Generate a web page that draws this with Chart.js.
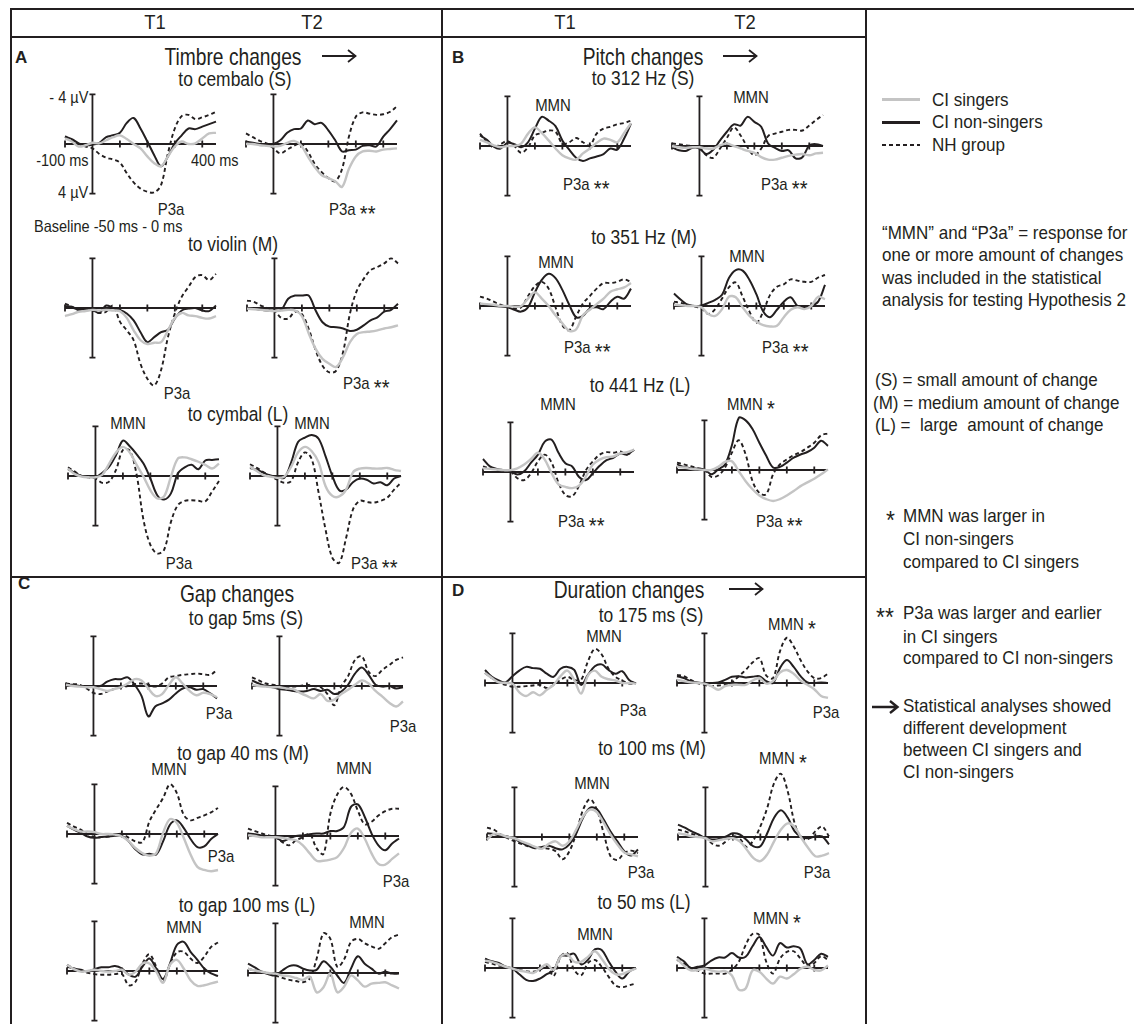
<!DOCTYPE html>
<html>
<head>
<meta charset="utf-8">
<script src="https://cdn.jsdelivr.net/npm/chart.js@4.4.0/dist/chart.umd.min.js"></script>
<style>
  html, body { margin: 0; padding: 0; background: #fff; }
  #fig { position: relative; width: 1134px; height: 1024px; overflow: hidden; background: #fff;
         font-family: "Liberation Sans", Arial, sans-serif; color: #231f20; }
  .ln { position: absolute; background: #231f20; }
  .tx { position: absolute; white-space: pre; line-height: 1; }
  .tx .st { position: relative; top: 0.3em; font-size: 1.35em; line-height: 0; }
  canvas { position: absolute; }
</style>
</head>
<body>
<div id="fig"></div>
<script>
// time base (ms) shared by every waveform
const times = [-100,-75,-50,-25,0,25,50,75,100,125,150,175,200,225,250,275,300,325,350,375,400,425,450];
const tickTimes = [-100, 0, 100, 200, 300, 400];

// values in µV (negative is drawn up)
// A - timbre, cembalo (S)
const A1_T1_sing = [-0.45,-0.2,0.2,0.1,-0.1,-0.05,-0.3,-0.55,-0.7,-0.4,0,0.35,1.0,1.55,1.8,1.0,0.2,-0.2,0,-0.05,-0.45,-0.85,-0.9];
const A1_T1_non  = [-0.6,-0.4,-0.05,0.1,0.05,-0.1,-0.55,-0.7,-0.9,-1.7,-2.1,-1.25,-0.2,0.9,1.8,1.0,-0.05,-0.7,-1.25,-1.2,-1.4,-1.6,-1.8];
const A1_T1_nh   = [-0.6,-0.3,0,0.2,0.35,0.8,1.1,1.25,1.5,2.35,3.1,3.6,3.85,3.9,3.3,0.75,-1.25,-2.25,-2.35,-2.0,-2.15,-2.35,-2.6];
const A1_T2_sing = [0,0,0.1,0.15,0.2,0.15,-0.1,-0.25,0.1,1.0,1.85,2.5,2.75,3.0,3.45,2.0,1.0,0.6,0.55,0.6,0.45,0.4,0.35];
const A1_T2_non  = [-0.2,-0.1,0,0.1,0,-0.3,-0.9,-1.2,-1.25,-1.9,-1.6,-1.7,-1.1,-0.3,0.6,0.5,0.45,0.15,0.1,0.2,-0.6,-1.2,-1.9];
const A1_T2_nh   = [-0.85,-0.55,-0.25,-0.05,0.35,0.75,0.45,0.15,-0.05,0.6,1.6,2.25,2.75,3.0,2.0,-0.6,-2.2,-2.55,-2.45,-2.35,-2.4,-2.6,-3.05];
// A - violin (M)
const A2_T1_sing = [0.65,0.5,0.3,0.25,0.15,0.2,0.15,0.2,0.25,0.8,1.8,2.6,2.9,2.8,2.75,1.8,0.8,0.4,0.6,0.65,0.8,0.85,0.65];
const A2_T1_non  = [-0.15,-0.1,0.15,0.05,0.15,0.4,-0.2,0,0.15,0.45,1.0,1.95,2.75,2.35,1.95,1.75,0.85,0.2,0.05,0,0.2,0.25,-0.2];
const A2_T1_nh   = [-0.35,-0.1,0.2,0.05,0.2,0.4,0.3,-0.2,1.1,1.8,2.6,4.5,5.7,6.25,5.0,2.35,0.45,-0.9,-1.7,-2.5,-2.65,-2.25,-2.75];
const A2_T2_sing = [0.05,0.1,0.15,0.2,0.25,0.2,0.15,0.2,0.65,2.05,3.3,4.1,4.5,4.75,3.95,2.75,2.1,1.95,1.9,1.8,1.65,1.55,1.4];
const A2_T2_non  = [0,0.05,0.15,0.2,0.2,0.15,-0.75,-1.0,-1.0,-1.0,0.2,1.15,1.5,1.55,1.65,1.85,1.75,1.4,1.0,0.75,0.3,0.15,-0.35];
const A2_T2_nh   = [-0.6,-0.5,-0.2,0,0.2,0.8,0.85,0.3,0.5,1.7,3.4,4.65,5.2,5.05,3.55,0.45,-1.4,-2.35,-3.05,-3.3,-3.6,-4.0,-3.6];
// A - cymbal (L)
const A3_T1_sing = [-0.6,-0.15,0.05,0.1,0.1,-0.1,-1.0,-1.9,-2.35,-1.9,-0.9,0.05,1.15,1.8,1.65,0.05,-1.4,-1.5,-1.35,-1.15,-0.9,-0.6,-1.0];
const A3_T1_non  = [-0.55,-0.25,0,0.05,0.1,-0.25,-0.75,-1.7,-2.85,-2.4,-1.75,-1.0,0.2,1.55,1.9,1.4,-0.2,-0.7,-0.9,-0.55,-1.25,-1.3,-1.35];
const A3_T1_nh   = [-0.7,-0.35,0,0.1,0.2,0.55,0.45,-0.5,-2.1,-2.05,-0.1,3.55,5.55,6.25,5.95,3.7,2.35,2.0,1.95,2.0,2.05,1.25,0.4];
const A3_T2_sing = [-0.75,-0.4,-0.05,0.05,0.15,0.05,-0.75,-1.9,-2.35,-2.0,-1.1,0.8,1.6,1.65,1.1,-0.3,-0.6,-0.65,-0.6,-0.6,-0.65,-0.5,-0.4];
const A3_T2_non  = [-0.65,-0.5,-0.25,-0.05,0.05,0.15,-1.1,-2.75,-3.1,-3.3,-3.0,-1.6,0,1.15,1.1,0.5,0.2,0.3,0.6,0.5,0.75,0.2,0];
const A3_T2_nh   = [-0.95,-0.65,-0.3,0,0.3,0.55,0.4,-1.1,-1.9,-1.35,1.35,4.3,6.6,7.0,5.0,2.7,2.0,2.1,2.15,2.0,1.75,1.1,0.55];
// B - pitch 312 Hz (S)
const B1_T1_sing = [-0.5,-0.3,-0.05,0.1,0,0,-0.2,-1.0,-1.5,-1.05,-0.45,0.2,0.75,1.0,1.1,0.6,0.2,-0.25,-0.6,-0.5,-0.3,-1.05,-1.85];
const B1_T1_non  = [-0.85,-0.5,0.05,0.2,-0.25,-0.15,0.1,-0.3,-1.4,-2.35,-2.05,-1.6,-0.45,0.3,0.95,1.2,1.0,0.85,0.65,0.2,0.3,-0.6,-1.8];
const B1_T1_nh   = [-1.0,-0.3,0.1,-0.15,-0.4,0,0.55,0.1,-0.85,-1.05,-1.25,-1.15,-0.2,-0.3,-0.65,-0.3,-0.05,-1.0,-1.4,-1.55,-1.75,-1.85,-2.05];
const B1_T2_sing = [0,0.1,0.15,0.1,0.1,0.2,0.2,-0.05,-0.2,0,0.2,0.4,0.55,0.9,1.1,1.1,0.95,0.8,0.7,0.65,0.75,0.6,0.55];
const B1_T2_non  = [0.1,0.35,0.4,0.15,0.2,0.65,0.3,-0.45,-1.15,-1.75,-1.65,-2.35,-1.95,-1.55,-0.2,0.15,0.4,0.35,1.0,0.9,-0.05,-0.15,0];
const B1_T2_nh   = [-0.2,-0.15,-0.05,0,0.15,0.75,0.95,0.2,-0.65,-1.5,-0.85,0.1,0.75,0.2,-0.8,-1.0,-1.15,-1.3,-1.3,-1.25,-1.65,-2.1,-2.5];
// B - 351 Hz (M)
const B2_T1_sing = [-0.2,-0.15,-0.1,0,0,0.05,0,-0.6,-1.1,-0.6,0,0.75,1.4,2.0,1.9,0.75,0.3,-0.15,-0.6,-1.15,-1.35,-1.5,-1.85];
const B2_T1_non  = [0,-0.05,0,0.05,0.1,0.3,0.45,0.1,-1.1,-2.1,-2.6,-2.25,-1.3,-0.1,0.9,0.8,0.2,0.1,0.25,-0.35,-0.75,-0.6,-1.4];
const B2_T1_nh   = [-0.75,-0.6,-0.35,-0.1,0.05,0.2,0.1,-0.8,-1.6,-1.95,-1.4,0.1,1.55,1.95,0.85,-0.2,-0.8,-1.4,-1.85,-1.85,-1.95,-2.15,-1.95];
const B2_T2_sing = [-0.1,-0.05,0,0,0.1,0.65,0.8,0.25,-0.75,-0.7,0.1,0.8,1.25,1.55,1.65,1.6,0.9,0.3,0.1,0.25,0,-0.75,-0.55];
const B2_T2_non  = [-1.0,-0.5,-0.1,0,-0.05,-0.25,-0.5,-0.9,-2.25,-2.9,-2.85,-2.1,-0.95,0.45,0.9,0.3,-0.35,-0.7,0,0.1,0,-0.35,-1.7];
const B2_T2_nh   = [-0.35,-0.25,-0.1,0.05,0.2,0.65,0.25,-0.6,-1.5,-1.9,-0.75,0.45,1.35,0.45,-0.9,-1.55,-1.75,-2.15,-2.05,-1.95,-1.95,-2.3,-2.5];
// B - 441 Hz (L)
const B3_T1_sing = [-0.3,-0.25,-0.2,-0.15,-0.15,-0.3,-0.6,-1.05,-1.55,-1.0,0.1,1.0,1.2,1.3,1.1,0.35,-0.6,-1.0,-1.2,-1.25,-1.5,-1.6,-1.8];
const B3_T1_non  = [-1.05,-0.45,-0.25,-0.15,-0.05,0.2,-0.05,-0.75,-1.4,-2.45,-2.6,-1.55,-0.7,-0.45,0.4,0.65,0.1,-0.5,-0.95,-1.15,-1.5,-1.4,-1.8];
const B3_T1_nh   = [-0.45,-0.3,-0.2,-0.15,-0.05,0.5,0.65,0.1,-0.85,-1.4,-0.75,0.85,1.85,1.95,1.1,-0.15,-0.85,-1.4,-1.6,-1.55,-1.65,-1.4,-1.8];
const B3_T2_sing = [-0.25,-0.2,-0.1,-0.05,0,0,-0.25,-0.65,-0.7,0.1,0.9,1.55,2.05,2.35,2.5,2.35,2.05,1.7,1.3,1.0,0.7,0.35,-0.05];
const B3_T2_non  = [-0.45,-0.25,-0.15,-0.1,-0.05,0.35,-0.05,-0.45,-2.0,-4.2,-4.0,-3.3,-2.2,-1.15,-0.2,-0.25,-0.6,-1.0,-1.25,-1.45,-1.8,-2.35,-1.95];
const B3_T2_nh   = [-0.6,-0.45,-0.3,-0.15,0,0.55,0.45,-0.2,-1.4,-2.4,-1.25,0.9,1.85,1.95,0.35,-0.45,-0.85,-1.2,-1.45,-1.8,-2.2,-2.8,-2.95];
// C - gap 5 ms (S)
const C1_T1_sing = [-0.1,0,0.05,0.1,0.1,0.25,0.4,0.25,0.1,-0.2,-0.55,-0.45,0.2,0.8,0.65,-0.1,-0.7,-0.2,0.4,0.75,0.55,0.65,0.9];
const C1_T1_non  = [-0.1,-0.1,0,0.05,0.05,0,-0.35,-0.55,-0.55,-0.7,-0.1,0.8,2.45,1.65,1.4,1.1,0.6,0.2,0.1,0.3,0.25,0.6,1.0];
const C1_T1_nh   = [-0.2,-0.15,-0.1,0.2,0.55,0.65,0.45,0.25,0.1,0,-0.15,-0.2,-0.1,0.05,-0.2,-0.7,-0.8,-0.9,-0.95,-1.0,-0.95,-0.9,-1.3];
const C1_T2_sing = [-0.1,0,0.05,0.1,0.1,0.2,0.25,0.55,0.8,1.0,0.65,1.2,1.1,0.65,0.3,-0.1,-0.45,-0.2,0.4,0.85,1.35,1.65,1.25];
const C1_T2_non  = [-0.45,-0.2,0,0.1,0.25,0.3,0.4,0.45,0.4,0.25,0.4,0.3,0.65,0.45,-0.1,-1.0,-1.5,-0.9,-0.1,0.05,0,0.2,0.1];
const C1_T2_nh   = [-0.7,-0.45,-0.2,-0.1,0,0.1,0.05,0,-0.1,0,0.1,0.65,1.55,0.05,-0.8,-2.1,-2.4,-1.15,-0.8,-1.3,-1.7,-2.1,-2.3];
// C - gap 40 ms (M)
const C2_T1_sing = [-0.65,-0.4,-0.2,-0.2,-0.15,0,0,0.05,0.2,0.6,1.15,1.55,1.75,1.55,-0.1,-1.2,-0.9,0.3,1.65,2.65,2.9,3.0,2.9];
const C2_T1_non  = [-0.65,-0.35,-0.1,0.2,0.3,0.25,0.2,0.15,0.15,0.6,1.25,1.65,1.6,1.65,0.6,-0.75,-1.1,-0.5,0.4,1.05,1.0,0.4,0];
const C2_T1_nh   = [-0.9,-0.6,-0.35,0,0.25,0.25,0.2,0.05,0,0.3,0.6,0.65,-1.0,-2.0,-2.9,-4.0,-3.3,-1.55,-1.1,-1.3,-1.5,-1.75,-2.1];
const C2_T2_sing = [-0.05,0,0.1,0.1,0.1,0.15,0.25,0.35,0.75,1.4,2.0,2.0,1.9,1.7,0.95,-0.25,-0.6,0.2,1.4,2.25,2.3,1.85,1.4];
const C2_T2_non  = [-0.2,-0.15,-0.05,0,0.1,0.4,0.2,0,-0.05,-0.15,-0.2,-0.2,-0.4,-0.4,-0.75,-2.35,-2.55,-1.55,-0.2,0.75,1.15,0.6,0.2];
const C2_T2_nh   = [-0.6,-0.4,-0.2,-0.05,0.1,0.5,0.75,0.35,0.1,-0.15,1.0,1.45,-1.8,-3.35,-3.95,-3.4,-2.05,-0.95,-1.15,-1.65,-2.0,-2.2,-2.2];
// C - gap 100 ms (L)
const C3_T1_sing = [-0.5,-0.15,0.05,0,-0.1,0,0.05,0,-0.1,0.3,0.05,-0.6,-0.6,0.05,0.95,-0.5,-0.9,-0.2,0.75,1.2,1.15,1.0,0.85];
const C3_T1_non  = [-0.35,-0.2,-0.1,0.05,-0.15,-0.3,-0.3,-0.4,-0.2,0.3,0.45,-0.35,-1.0,-0.2,0.65,-0.6,-2.1,-2.35,-1.55,-0.9,-0.2,0.2,0.4];
const C3_T1_nh   = [-0.5,-0.2,0,0.15,0.25,0.3,0.3,0.25,0.25,1.15,0.85,-0.6,-1.35,-0.35,0.85,-0.5,-1.5,-1.55,-1.0,-0.65,-1.15,-1.95,-2.3];
const C3_T2_sing = [-0.35,-0.2,-0.1,0,0.05,0.2,0.25,0.4,0.55,0.3,1.55,1.15,0.05,1.55,1.1,0.2,0.6,1.1,0.85,0.8,0.75,1.0,1.25];
const C3_T2_non  = [-0.75,-0.45,-0.1,0.1,0.2,-0.2,-0.55,-0.6,-0.35,-0.2,-0.25,-0.95,-0.5,0.2,0.8,-0.35,-1.35,-0.75,-0.35,0.05,-0.1,0.05,0.05];
const C3_T2_nh   = [-0.35,-0.2,-0.1,0.05,0.2,0.4,0.55,0.65,0.75,0.45,-1.15,-3.2,-2.75,-0.5,-1.1,-2.5,-2.75,-2.4,-2.15,-1.95,-2.4,-2.9,-3.1];
// D - duration 175 ms (S)
const D1_T1_sing = [-0.8,-0.4,-0.05,0,0.05,0.75,1.05,0.75,1.0,0.55,0.15,-0.55,-1.0,-0.25,0.85,-0.6,-1.0,-0.5,-0.3,-0.2,0,0,0.05];
const D1_T1_non  = [-1.05,-0.5,-0.2,-0.05,-0.55,-1.0,-1.3,-1.2,-1.15,-0.75,-0.5,-1.15,-1.3,-1.05,0.15,-0.65,-1.35,-1.5,-1.05,-0.75,-0.95,-0.25,0.05];
const D1_T1_nh   = [-0.8,-0.4,-0.05,0.15,0.3,0.3,0.25,0.2,0.15,0.4,0.15,-0.25,-0.5,-0.25,-0.25,-1.75,-2.75,-2.3,-1.15,-0.5,-0.2,0.05,0];
const D1_T2_sing = [-0.25,-0.15,-0.05,0,0.05,0.25,0.55,0.25,0.15,0.15,0.15,-0.2,-0.4,0.05,-0.15,-0.85,-1.05,-0.75,-0.2,0.15,0.5,1.05,1.2];
const D1_T2_non  = [-0.55,-0.4,-0.15,-0.05,0,0,-0.05,-0.25,-0.5,-0.55,-0.45,-0.5,-0.55,-0.15,0,-1.2,-1.85,-1.3,-0.55,-0.05,0,-0.05,0];
const D1_T2_nh   = [-0.65,-0.55,-0.25,0,0.15,0.25,0.2,0.15,-0.05,-0.55,-1.05,-1.65,-2.0,-0.6,-0.4,-2.55,-3.65,-2.95,-1.85,-0.95,-0.4,-0.4,-0.75];
// D - 100 ms (M)
const D2_T1_sing = [0.2,-0.25,-0.2,0,0.1,0.35,0.55,0.8,0.95,0.55,0.35,0.7,0.35,-0.6,-1.65,-2.2,-2.0,-1.15,-0.2,0.6,1.25,1.4,1.55];
const D2_T1_non  = [-0.3,-0.25,-0.1,-0.05,0.15,0.45,0.7,0.9,0.8,0.7,0.9,1.0,0.6,-0.3,-1.55,-2.35,-2.25,-1.4,-0.45,0.35,1.15,1.5,1.0];
const D2_T1_nh   = [-0.75,-0.6,-0.2,0.1,0.35,0.55,0.75,0.8,0.9,0.95,1.15,1.8,1.15,-0.3,-2.2,-3.05,-2.2,-0.3,1.55,1.85,1.3,1.1,1.3];
const D2_T2_sing = [-0.3,-0.2,-0.05,0,0.1,0.35,0.25,0.15,0.1,0.35,1.0,1.7,1.95,1.4,0.35,-0.6,-1.1,-0.8,0.1,0.9,1.55,1.5,1.3];
const D2_T2_non  = [-1.0,-0.75,-0.45,-0.2,0.1,0.2,0.15,-0.05,-0.3,-0.2,0.25,0.75,0.75,-0.3,-1.55,-2.15,-1.55,-0.45,0,0.1,-0.05,-0.05,0.6];
const D2_T2_nh   = [-0.6,-0.45,-0.25,-0.1,0,0.55,0.7,0.35,-0.05,0.15,0.8,0.25,-0.85,-2.35,-4.35,-5.1,-3.65,-1.1,0.1,0.15,-0.45,-0.85,-0.05];
// D - 50 ms (L)
const D3_T1_sing = [-0.6,-0.5,-0.3,-0.1,0.05,0.2,0.3,0.4,0.05,-0.3,0.15,-0.9,-1.1,-0.5,-0.5,-0.9,-1.35,-0.75,0.05,0.5,0.5,0.25,0.05];
const D3_T1_non  = [-0.75,-0.55,-0.4,-0.1,0.05,0.5,0.95,1.05,0.85,0.5,0.2,-0.95,-1.0,-1.15,-0.3,-0.65,-1.5,-1.45,-0.55,0.3,0.85,0.3,0];
const D3_T1_nh   = [-0.5,-0.35,-0.2,-0.1,0.05,0.15,0.25,0.3,0.15,-0.15,0.65,-0.9,-1.2,0.15,0.6,-0.4,-0.65,-0.1,0.7,1.4,1.55,1.4,1.25];
const D3_T2_sing = [-0.75,-0.2,0.2,0.15,0.05,0.2,0.3,0.25,0.6,1.75,1.65,0.2,0.3,0.85,1.25,0.7,0.85,0.5,0.05,-0.1,0.15,0.2,-0.2];
const D3_T2_non  = [-0.9,-0.55,0,-0.1,-0.2,-0.6,-0.85,-0.85,-1.2,-0.85,-0.9,-1.75,-2.5,-1.7,-1.0,-2.0,-1.65,-1.75,-1.55,-0.3,-0.65,-1.15,-0.9];
const D3_T2_nh   = [-0.65,-0.35,0,0.2,0.45,0.45,0.45,0.45,0.15,-0.5,-1.85,-2.75,-2.65,-0.5,0.45,-0.75,-1.3,-1.35,-0.75,-0.15,-0.4,-0.95,-0.65];

// where each small plot sits: pixel x of -100 ms, pixel y of 0 µV
const panels = [
  ['A1_T1', 65, 144, A1_T1_sing, A1_T1_non, A1_T1_nh],
  ['A1_T2', 246, 144, A1_T2_sing, A1_T2_non, A1_T2_nh],
  ['A2_T1', 65, 308, A2_T1_sing, A2_T1_non, A2_T1_nh],
  ['A2_T2', 247, 308, A2_T2_sing, A2_T2_non, A2_T2_nh],
  ['A3_T1', 68, 476, A3_T1_sing, A3_T1_non, A3_T1_nh],
  ['A3_T2', 250, 476, A3_T2_sing, A3_T2_non, A3_T2_nh],
  ['B1_T1', 480, 146, B1_T1_sing, B1_T1_non, B1_T1_nh],
  ['B1_T2', 672, 146, B1_T2_sing, B1_T2_non, B1_T2_nh],
  ['B2_T1', 480, 306, B2_T1_sing, B2_T1_non, B2_T1_nh],
  ['B2_T2', 674, 306, B2_T2_sing, B2_T2_non, B2_T2_nh],
  ['B3_T1', 483, 472, B3_T1_sing, B3_T1_non, B3_T1_nh],
  ['B3_T2', 677, 470, B3_T2_sing, B3_T2_non, B3_T2_nh],
  ['C1_T1', 66, 686, C1_T1_sing, C1_T1_non, C1_T1_nh],
  ['C1_T2', 252, 686, C1_T2_sing, C1_T2_non, C1_T2_nh],
  ['C2_T1', 67, 834, C2_T1_sing, C2_T1_non, C2_T1_nh],
  ['C2_T2', 248, 836, C2_T2_sing, C2_T2_non, C2_T2_nh],
  ['C3_T1', 67, 971, C3_T1_sing, C3_T1_non, C3_T1_nh],
  ['C3_T2', 248, 973, C3_T2_sing, C3_T2_non, C3_T2_nh],
  ['D1_T1', 485, 683, D1_T1_sing, D1_T1_non, D1_T1_nh],
  ['D1_T2', 677, 683, D1_T2_sing, D1_T2_non, D1_T2_nh],
  ['D2_T1', 487, 837, D2_T1_sing, D2_T1_non, D2_T1_nh],
  ['D2_T2', 678, 837, D2_T2_sing, D2_T2_non, D2_T2_nh],
  ['D3_T1', 485, 968, D3_T1_sing, D3_T1_non, D3_T1_nh],
  ['D3_T2', 677, 968, D3_T2_sing, D3_T2_non, D3_T2_nh],
];

// text kinds: size px, horizontal squeeze (the original face is condensed)
const kinds = {
  h: [20, 0.92], t: [24, 0.8], s: [20.5, 0.85], l: [17, 0.88], u: [16.5, 0.88], r: [18.5, 0.92], b: [17, 1],
};

// text: [string, x, y(center), kind, align]
const labels = [
  ['T1', 155, 22, 'h', 'c'], ['T2', 312, 22, 'h', 'c'], ['T1', 565, 22, 'h', 'c'], ['T2', 745, 22, 'h', 'c'],
  ['A', 15, 57, 'b', 'l'], ['Timbre changes', 233, 57, 't', 'c'], ['to cembalo (S)', 235, 79, 's', 'c'],
  ['- 4 µV', 88, 97, 'u', 'r'], ['-100 ms', 89, 160, 'u', 'r'], ['400 ms', 191, 160, 'u', 'l'], ['4 µV', 88, 192, 'u', 'r'],
  ['P3a', 171, 209, 'l', 'c'], ['P3a **', 329, 209, 'l', 'l'], ['Baseline -50 ms - 0 ms', 34, 226, 'u', 'l'],
  ['to violin (M)', 233, 244, 's', 'c'], ['P3a', 177, 393, 'l', 'c'], ['P3a **', 343, 383, 'l', 'l'],
  ['to cymbal (L)', 238, 414, 's', 'c'], ['MMN', 128, 423, 'l', 'c'], ['MMN', 312, 423, 'l', 'c'],
  ['P3a', 179, 563, 'l', 'c'], ['P3a **', 351, 563, 'l', 'l'],
  ['B', 452, 57, 'b', 'l'], ['Pitch changes', 643, 57, 't', 'c'], ['to 312 Hz (S)', 643, 78, 's', 'c'],
  ['MMN', 553, 105, 'l', 'c'], ['MMN', 751, 97, 'l', 'c'], ['P3a **', 563, 184, 'l', 'l'], ['P3a **', 761, 184, 'l', 'l'],
  ['to 351 Hz (M)', 644, 237, 's', 'c'], ['MMN', 556, 262, 'l', 'c'], ['MMN', 747, 256, 'l', 'c'],
  ['P3a **', 564, 347, 'l', 'l'], ['P3a **', 762, 347, 'l', 'l'],
  ['to 441 Hz (L)', 640, 385, 's', 'c'], ['MMN', 558, 404, 'l', 'c'], ['MMN *', 727, 404, 'l', 'l'],
  ['P3a **', 558, 521, 'l', 'l'], ['P3a **', 756, 521, 'l', 'l'],
  ['C', 18, 583, 'b', 'l'], ['Gap changes', 237, 594, 't', 'c'], ['to gap 5ms (S)', 246, 618, 's', 'c'],
  ['P3a', 219, 713, 'l', 'c'], ['P3a', 403, 726, 'l', 'c'],
  ['to gap 40 ms (M)', 243, 753, 's', 'c'], ['MMN', 169, 769, 'l', 'c'], ['MMN', 354, 768, 'l', 'c'],
  ['P3a', 221, 856, 'l', 'c'], ['P3a', 396, 881, 'l', 'c'],
  ['to gap 100 ms (L)', 247, 905, 's', 'c'], ['MMN', 184, 927, 'l', 'c'], ['MMN', 367, 922, 'l', 'c'],
  ['D', 452, 590, 'b', 'l'], ['Duration changes', 629, 590, 't', 'c'], ['to 175 ms (S)', 651, 615, 's', 'c'],
  ['MMN', 604, 636, 'l', 'c'], ['MMN *', 768, 624, 'l', 'l'], ['P3a', 633, 710, 'l', 'c'], ['P3a', 826, 712, 'l', 'c'],
  ['to 100 ms (M)', 652, 748, 's', 'c'], ['MMN *', 759, 758, 'l', 'l'], ['MMN', 592, 783, 'l', 'c'],
  ['P3a', 641, 872, 'l', 'c'], ['P3a', 817, 872, 'l', 'c'],
  ['to 50 ms (L)', 644, 902, 's', 'c'], ['MMN *', 753, 918, 'l', 'l'], ['MMN', 595, 934, 'l', 'c'],
  // right column
  ['CI singers', 932, 100, 'r', 'l'], ['CI non-singers', 932, 122, 'r', 'l'], ['NH group', 932, 145, 'r', 'l'],
  ['\u201cMMN\u201d and \u201cP3a\u201d = response for', 882, 233, 'r', 'l'],
  ['one or more amount of changes', 882, 255, 'r', 'l'],
  ['was included in the statistical', 882, 278, 'r', 'l'],
  ['analysis for testing Hypothesis 2', 882, 300, 'r', 'l'],
  ['(S) = small amount of change', 875, 380, 'r', 'l'],
  ['(M) = medium amount of change', 873, 403, 'r', 'l'],
  ['(L) =  large  amount of change', 875, 425, 'r', 'l'],
  ['*', 886, 516, 'r', 'l'], ['MMN was larger in', 903, 516, 'r', 'l'], ['CI non-singers', 903, 539, 'r', 'l'],
  ['compared to CI singers', 903, 562, 'r', 'l'],
  ['**', 876, 613, 'r', 'l'], ['P3a was larger and earlier', 903, 613, 'r', 'l'], ['in CI singers', 903, 637, 'r', 'l'],
  ['compared to CI non-singers', 903, 658, 'r', 'l'],
  ['Statistical analyses showed', 903, 706, 'r', 'l'], ['different development', 903, 728, 'r', 'l'],
  ['between CI singers and', 903, 750, 'r', 'l'], ['CI non-singers', 903, 772, 'r', 'l'],
];

// long arrows marking a different development: [centre x, centre y, length, line width]
const arrows = [[339, 56, 34, 1.8], [740, 56, 34, 1.8], [746, 589, 34, 1.8], [885, 707, 26, 2.4]];

const fig = document.getElementById('fig');

function box(left, top, w, h, bg) {
  const d = document.createElement('div');
  d.className = 'ln';
  d.style.left = left + 'px'; d.style.top = top + 'px';
  d.style.width = w + 'px'; d.style.height = h + 'px';
  if (bg) d.style.background = bg;
  fig.appendChild(d);
  return d;
}

// frame
box(10, 8, 1124, 2);
box(10, 8, 2, 1016);
box(10, 36, 856, 2);
box(441, 8, 2, 1016);
box(865, 8, 2, 1016);
box(10, 576, 856, 2);

// legend swatches
box(882, 98, 38, 2.5, '#c4c4c4');
box(882, 121, 38, 2.5);
box(882, 144, 38, 2, 'repeating-linear-gradient(90deg,#231f20 0 4px,transparent 4px 7px)');

for (const [s, x, y, kind, align] of labels) {
  const [size, sq] = kinds[kind];
  const d = document.createElement('div');
  d.className = 'tx';
  const i = s.indexOf('*');
  if (i >= 0) {
    d.textContent = s.slice(0, i);
    const st = document.createElement('span');
    st.className = 'st';
    st.textContent = s.slice(i);
    d.appendChild(st);
  } else {
    d.textContent = s;
  }
  d.style.fontSize = size + 'px';
  if (kind === 'b') d.style.fontWeight = 'bold';
  d.style.top = (y - size / 2) + 'px';
  if (align === 'c') {
    d.style.left = x + 'px';
    d.style.transformOrigin = '0 0';
    d.style.transform = 'scaleX(' + sq + ') translateX(-50%)';
  } else if (align === 'r') {
    d.style.right = (1134 - x) + 'px';
    d.style.transformOrigin = '100% 0';
    d.style.transform = 'scaleX(' + sq + ')';
  } else {
    d.style.left = x + 'px';
    d.style.transformOrigin = '0 0';
    d.style.transform = 'scaleX(' + sq + ')';
  }
  fig.appendChild(d);
}

// arrows drawn on a tiny canvas each
for (const [cx, cy, w, lw] of arrows) {
  const c = document.createElement('canvas');
  c.width = w + 6; c.height = 18;
  c.style.left = (cx - w / 2 - 3) + 'px'; c.style.top = (cy - 9) + 'px';
  fig.appendChild(c);
  const g = c.getContext('2d');
  g.strokeStyle = '#231f20'; g.lineWidth = lw;
  g.beginPath();
  g.moveTo(3, 9); g.lineTo(w + 2, 9);
  g.moveTo(w - 5, 3); g.lineTo(w + 2.5, 9); g.lineTo(w - 5, 15);
  g.stroke();
}

// scale of every small plot
const PX_PER_MS = 151 / 550;
const PX_PER_UV = 12.4;
const PAD = 8;
const CW = 151 + 2 * PAD;
const CH = 210;
const xMin = -100 - PAD / PX_PER_MS;
const xMax = 450 + PAD / PX_PER_MS;
const yHalf = (CH / 2) / PX_PER_UV;

const axesPlugin = {
  id: 'erpAxes',
  beforeDatasetsDraw(chart) {
    const { ctx, scales: { x, y } } = chart;
    const y0 = y.getPixelForValue(0);
    const x0 = x.getPixelForValue(0);
    const yt = y.getPixelForValue(-4);
    const yb = y.getPixelForValue(4);
    ctx.save();
    ctx.strokeStyle = '#231f20';
    ctx.lineWidth = 1.8;
    ctx.beginPath();
    ctx.moveTo(x.getPixelForValue(-100), y0);
    ctx.lineTo(x.getPixelForValue(450), y0);
    for (const t of tickTimes) {
      const px = x.getPixelForValue(t);
      ctx.moveTo(px, y0 - 3.5);
      ctx.lineTo(px, y0 + 3.5);
    }
    ctx.moveTo(x0, yt); ctx.lineTo(x0, yb);
    ctx.moveTo(x0 - 3, yt); ctx.lineTo(x0 + 3, yt);
    ctx.moveTo(x0 - 3, yb); ctx.lineTo(x0 + 3, yb);
    ctx.stroke();
    ctx.restore();
  }
};

function pts(vals) {
  return vals.map((v, i) => ({ x: times[i], y: v }));
}

for (const [id, left, zero, sing, non, nh] of panels) {
  const c = document.createElement('canvas');
  c.id = id;
  c.width = CW; c.height = CH;
  c.style.left = (left - PAD) + 'px';
  c.style.top = (zero - CH / 2) + 'px';
  c.style.width = CW + 'px'; c.style.height = CH + 'px';
  fig.appendChild(c);

  new Chart(c, {
    type: 'line',
    data: {
      datasets: [
        { label: 'CI singers', data: pts(sing), borderColor: '#c4c4c4', borderWidth: 2.4, clip: false },
        { label: 'NH group', data: pts(nh), borderColor: '#231f20', borderWidth: 1.9, borderDash: [4, 3], clip: false },
        { label: 'CI non-singers', data: pts(non), borderColor: '#231f20', borderWidth: 2, clip: false },
      ],
    },
    options: {
      responsive: false,
      animation: false,
      devicePixelRatio: 1,
      events: [],
      layout: { padding: 0 },
      elements: {
        point: { radius: 0 },
        line: { tension: 0.35, fill: false },
      },
      scales: {
        x: { type: 'linear', min: xMin, max: xMax, display: false },
        y: { min: -yHalf, max: yHalf, reverse: true, display: false },
      },
      plugins: { legend: { display: false }, tooltip: { enabled: false } },
    },
    plugins: [axesPlugin],
  });
}
</script>
</body>
</html>
